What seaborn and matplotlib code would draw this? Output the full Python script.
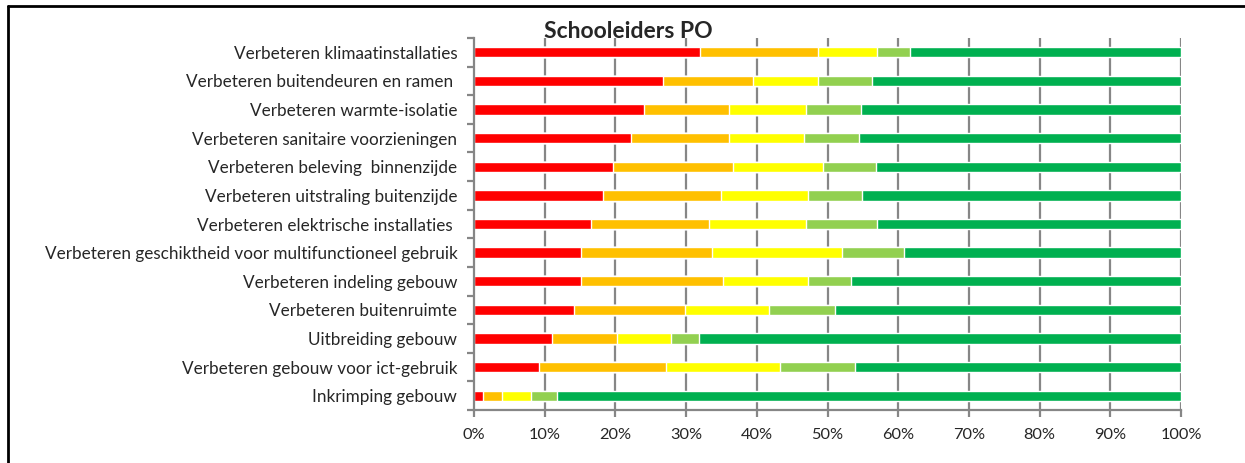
import numpy as np
import pandas as pd
import matplotlib
matplotlib.use("Agg")
import matplotlib.pyplot as plt
import seaborn as sns
from matplotlib.lines import Line2D

categories = [
    "Verbeteren klimaatinstallaties",
    "Verbeteren buitendeuren en ramen ",
    "Verbeteren warmte-isolatie",
    "Verbeteren sanitaire voorzieningen",
    "Verbeteren beleving  binnenzijde",
    "Verbeteren uitstraling buitenzijde",
    "Verbeteren elektrische installaties ",
    "Verbeteren geschiktheid voor multifunctioneel gebruik",
    "Verbeteren indeling gebouw",
    "Verbeteren buitenruimte",
    "Uitbreiding gebouw",
    "Verbeteren gebouw voor ict-gebruik",
    "Inkrimping gebouw",
]
s1 = [31.9, 26.8, 24.0, 22.2, 19.7, 18.2, 16.5, 15.1, 15.1, 14.1, 11.0, 9.2, 1.3]
s2 = [16.8, 12.7, 12.0, 13.8, 16.9, 16.8, 16.7, 18.6, 20.1, 15.8, 9.2, 18.0, 2.6]
s3 = [8.3, 9.1, 10.9, 10.7, 12.7, 12.2, 13.8, 18.3, 12.0, 11.8, 7.6, 16.1, 4.1]
s4 = [4.7, 7.7, 7.8, 7.8, 7.5, 7.7, 10.0, 8.8, 6.1, 9.3, 4.0, 10.6, 3.7]
s5 = [38.3, 43.7, 45.3, 45.5, 43.2, 45.1, 43.0, 39.2, 46.7, 49.0, 68.2, 46.1, 88.3]
colors = ["#FF0000", "#FFC000", "#FFFF00", "#92D050", "#00B050"]
xticks = [0, 10, 20, 30, 40, 50, 60, 70, 80, 90, 100]
xticklabels = [f"{v}%" for v in xticks]
title = "Schooleiders PO"

sns.set_theme(style="white")
plt.rcParams["font.family"] = ["Lato", "DejaVu Sans"]

series = [s1, s2, s3, s4, s5]
cum = np.zeros(len(categories))
cums = []
for s in series:
    cum = cum + np.array(s)
    cums.append(cum.copy())

fig = plt.figure(figsize=(12.45, 4.63), dpi=100)
ax = fig.add_axes([474 / 1245, 1 - 410 / 463, (1181 - 474) / 1245, (410 - 38) / 463])

# vertical gridlines
for v in xticks[1:]:
    ax.axvline(v, color="#868686", lw=1.6, zorder=0)

for i in range(len(series) - 1, -1, -1):
    d = pd.DataFrame({"cat": categories, "val": cums[i]})
    sns.barplot(data=d, y="cat", x="val", order=categories, color=colors[i],
                orient="h", width=0.36, edgecolor="white", linewidth=1.0,
                saturation=1, ax=ax, zorder=2)

ax.set_xlim(0, 100)
ax.set_ylim(len(categories) - 0.5, -0.5)
ax.set_xlabel("")
ax.set_ylabel("")
ax.set_xticks(xticks)
ax.set_xticklabels(xticklabels, fontsize=11.8)
ax.tick_params(axis="x", length=5, width=1.6, color="#868686", pad=8, bottom=True)
ax.tick_params(axis="y", which="major", length=0, pad=12, labelsize=12.3)
ax.set_yticks(np.arange(-0.5, len(categories), 1.0), minor=True)
ax.tick_params(axis="y", which="minor", length=5, width=1.6, color="#868686", left=True)
for sp in ["top", "right"]:
    ax.spines[sp].set_visible(False)
for sp in ["left", "bottom"]:
    ax.spines[sp].set_color("#868686")
    ax.spines[sp].set_linewidth(1.6)
    ax.spines[sp].set_zorder(3)

fig.text(628 / 1245, 1 - 31 / 463, title, ha="center", va="center",
         fontsize=16.5, fontweight="bold")

# frame lines
fig.add_artist(Line2D([8 / 1245, 1], [1 - 5.5 / 463, 1 - 5.5 / 463],
                      color="black", lw=2, transform=fig.transFigure))
fig.add_artist(Line2D([8 / 1245, 8 / 1245], [0, 1 - 5.5 / 463],
                      color="black", lw=2, transform=fig.transFigure))

fig.savefig("out.png", dpi=100)
